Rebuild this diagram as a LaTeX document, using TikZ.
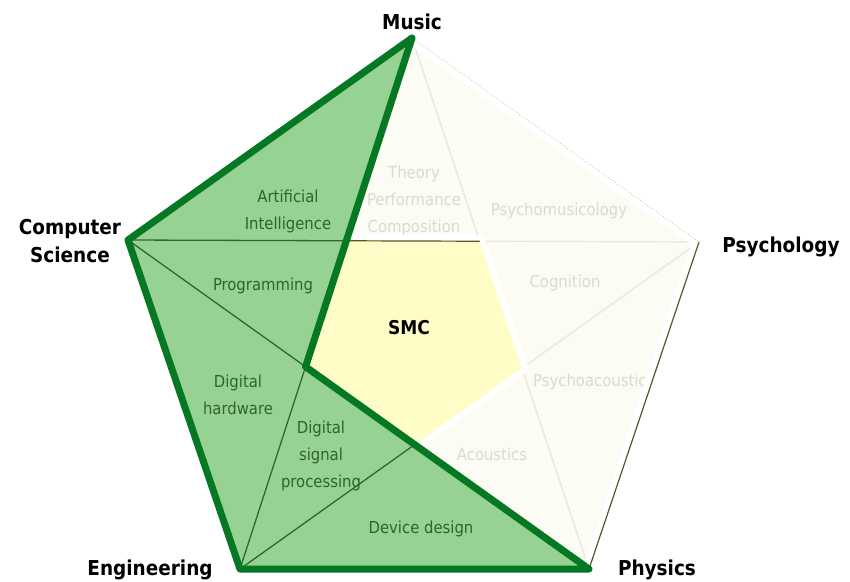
\documentclass[tikz,border=0pt]{standalone}
\usepackage{fontspec}
\setmainfont{DejaVu Sans Condensed}
\definecolor{gfill}{RGB}{150,210,145}
\definecolor{gline}{RGB}{5,120,35}
\definecolor{gthin}{RGB}{45,105,45}
\definecolor{gtext}{RGB}{46,100,48}
\definecolor{pale}{RGB}{252,252,245}
\definecolor{ptext}{RGB}{218,218,208}
\definecolor{pline}{RGB}{230,230,220}
\definecolor{smcfill}{RGB}{255,252,200}
\definecolor{olive}{RGB}{90,85,40}
\tikzset{
  vlabel/.style={font=\bfseries\fontsize{20.5}{28}\selectfont, text=black, inner sep=0pt, align=center},
  glabel/.style={font=\fontsize{16.5}{27}\selectfont, text=gtext, inner sep=0pt, align=center},
  plabel/.style={font=\fontsize{16.5}{27}\selectfont, text=ptext, inner sep=0pt, align=center},
  thing/.style={line width=1.3pt, draw=gthin},
  pthin/.style={line width=1.2pt, draw=pline}
}
\begin{document}
\begin{tikzpicture}[x=1pt,y=-1pt]
\useasboundingbox (0,0) rectangle (850,581);
\fill[white] (0,0) rectangle (850,581);
% outer vertices
\coordinate (M) at (412,38);
\coordinate (CS) at (128,240);
\coordinate (E) at (240,569);
\coordinate (P) at (589,569);
\coordinate (Y) at (699,242);
% inner vertices
\coordinate (TL) at (intersection of M--E and CS--Y);
\coordinate (TR) at (intersection of M--P and CS--Y);
\coordinate (R) at (intersection of M--P and E--Y);
\coordinate (B) at (intersection of E--Y and CS--P);
\coordinate (L) at (intersection of CS--P and M--E);
% pale pentagon
\fill[pale] (M) -- (Y) -- (P) -- (E) -- (CS) -- cycle;
\draw[pthin] (M) -- (TR) -- (Y) -- (R) -- (P);
% pale labels
\node[plabel] (tpc) at (414,201) {Theory\\Performance\\Composition};
\node[plabel, anchor=base] (pmu) at (559,215) {Psychomusicology};
\node[plabel, anchor=base] (cog) at (565,287) {Cognition};
\node[plabel, anchor=base] (aco) at (492,460) {Acoustics};
\begin{scope}
\clip (M) -- (Y) -- (P) -- (E) -- (CS) -- cycle;
\node[plabel, anchor=base west] (pac) at (533,386) {Psychoacoustics};
\end{scope}
% outer right edges
\draw[white, line width=13pt, line join=round] (M) -- (Y) -- (P);
\draw[draw={rgb,255:red,200;green,195;blue,170}, line width=0.8pt, dotted] (M) -- (Y);
\draw[olive, line width=1.2pt] (Y) -- (P);
% inner pentagon
\draw[white, line width=12pt, line join=round] (TL) -- (TR) -- (R) -- (B) -- (L) -- cycle;
\fill[smcfill] (TL) -- (TR) -- (R) -- (B) -- (L) -- cycle;
\draw[olive, line width=1.2pt] (TL) -- (TR);
% green region
\fill[gfill] (M) -- (CS) -- (E) -- (P) -- (L) -- cycle;
\draw[thing] (CS) -- (TL);
\draw[thing] (CS) -- (L) -- (E) -- (B);
\draw[gline, line width=7pt, line join=round] (M) -- (CS) -- (E) -- (P) -- (L) -- cycle;
% green labels
\node[glabel] (ai) at (288,211) {Artificial\\Intelligence};
\node[glabel, anchor=base] (prog) at (263,290) {Programming};
\node[glabel] (dh) at (238,395) {Digital\\hardware};
\node[glabel] (dsp) at (321,456) {Digital\\signal\\processing};
\node[glabel, anchor=base] (dd) at (421,533) {Device design};
% SMC
\node[font=\bfseries\fontsize{19}{22}\selectfont, inner sep=0pt, anchor=base] (smc) at (409,334) {SMC};
% vertex labels
\node[vlabel, anchor=base] (music) at (412,29) {Music};
\node[vlabel] (cs) at (70,241) {Computer\\Science};
\node[vlabel, anchor=base] (psy) at (781,252) {Psychology};
\node[vlabel, anchor=base] (eng) at (150,575) {Engineering};
\node[vlabel, anchor=base] (phy) at (657,575) {Physics};
\end{tikzpicture}
\end{document}
